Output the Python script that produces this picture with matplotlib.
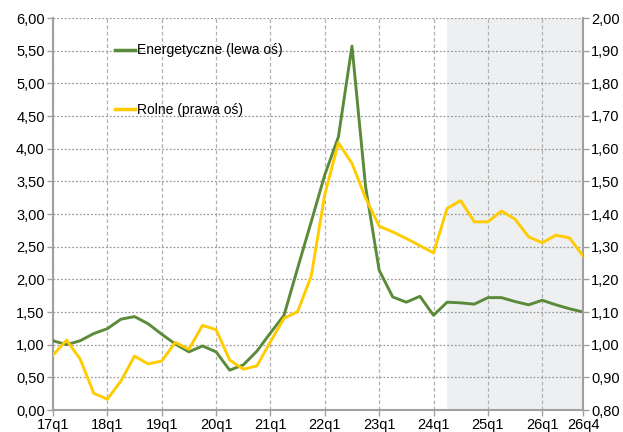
import matplotlib
matplotlib.use("Agg")
import matplotlib.pyplot as plt
from matplotlib.lines import Line2D
from matplotlib.ticker import FuncFormatter, MultipleLocator

plt.rcParams['font.family'] = ['Liberation Sans', 'DejaVu Sans']

quarters = [f"{y}q{q}" for y in range(17, 27) for q in range(1, 5)]

energy = [1.06, 1.00, 1.06, 1.17, 1.245, 1.39, 1.43, 1.32, 1.16, 1.01,
          0.89, 0.98, 0.89, 0.61, 0.69, 0.90, 1.18, 1.45, 2.17, 2.88,
          3.60, 4.18, 5.57, 3.42, 2.14, 1.73, 1.65, 1.74, 1.45, 1.65,
          1.64, 1.62, 1.72, 1.72, 1.66, 1.61, 1.68, 1.61, 1.55, 1.50]

agri = [0.968, 1.014, 0.956, 0.851, 0.833, 0.889, 0.965, 0.941, 0.950, 1.007,
        0.986, 1.059, 1.046, 0.953, 0.925, 0.935, 1.009, 1.081, 1.101, 1.21,
        1.46, 1.618, 1.555, 1.449, 1.363, 1.345, 1.325, 1.303, 1.281, 1.417,
        1.441, 1.376, 1.376, 1.409, 1.384, 1.330, 1.312, 1.335, 1.327, 1.272]

label_energy = "Energetyczne (lewa oś)"
label_agri = "Rolne (prawa oś)"
forecast_start = "24q2"

green = "#5B8B3A"
yellow = "#FFCC00"
gray = "#A0A0A0"

fig = plt.figure(figsize=(6.23, 4.32), dpi=100)
ax = fig.add_axes([53/623, 22/432, (583-53)/623, (410-18)/432])
ax2 = ax.twinx()

x = list(range(len(quarters)))
fs = quarters.index(forecast_start)
ax.axvspan(fs, len(quarters) - 1, color="#EEEFF1", zorder=0, lw=0)

ax.plot(x, energy, color=green, lw=2.1, zorder=3)
ax2.plot(x, agri, color=yellow, lw=2.1, zorder=3)

ax.set_xlim(0, len(quarters) - 1)
ax.set_ylim(0, 6)
ax2.set_ylim(0.8, 2.0)
ax.yaxis.set_major_locator(MultipleLocator(0.5))
ax2.yaxis.set_major_locator(MultipleLocator(0.1))
fmt = FuncFormatter(lambda v, p: f"{v:.2f}".replace(".", ","))
ax.yaxis.set_major_formatter(fmt)
ax2.yaxis.set_major_formatter(fmt)

xt = [i for i, q in enumerate(quarters) if q.endswith("q1")] + [len(quarters) - 1]
ax.set_xticks(xt)
ax.set_xticklabels([quarters[i] for i in xt])

for a in (ax, ax2):
    a.tick_params(labelsize=10.5, length=4, color=gray, width=1, pad=2)
    for s in a.spines.values():
        s.set_visible(False)
ax.spines['left'].set_visible(True)
ax.spines['bottom'].set_visible(True)
ax2.spines['right'].set_visible(True)
for s in (ax.spines['left'], ax.spines['bottom'], ax2.spines['right']):
    s.set_color(gray)
    s.set_linewidth(1.5)

ax.yaxis.grid(True, linestyle=(0, (1.5, 1.5)), color="#9A9A9A", lw=0.9)
ax.xaxis.grid(True, linestyle=(0, (3, 2)), color="#B0B0B0", lw=0.9)
ax.set_axisbelow(True)

handles = [Line2D([], [], color=green, lw=2.5), Line2D([], [], color=yellow, lw=2.5)]
leg = ax2.legend(handles, [label_energy, label_agri], loc="upper left",
                 bbox_to_anchor=(0.094, 0.967), frameon=False, fontsize=10,
                 labelspacing=3.3, handlelength=1.45, handletextpad=0.1)

fig.savefig("out.png", dpi=100)
